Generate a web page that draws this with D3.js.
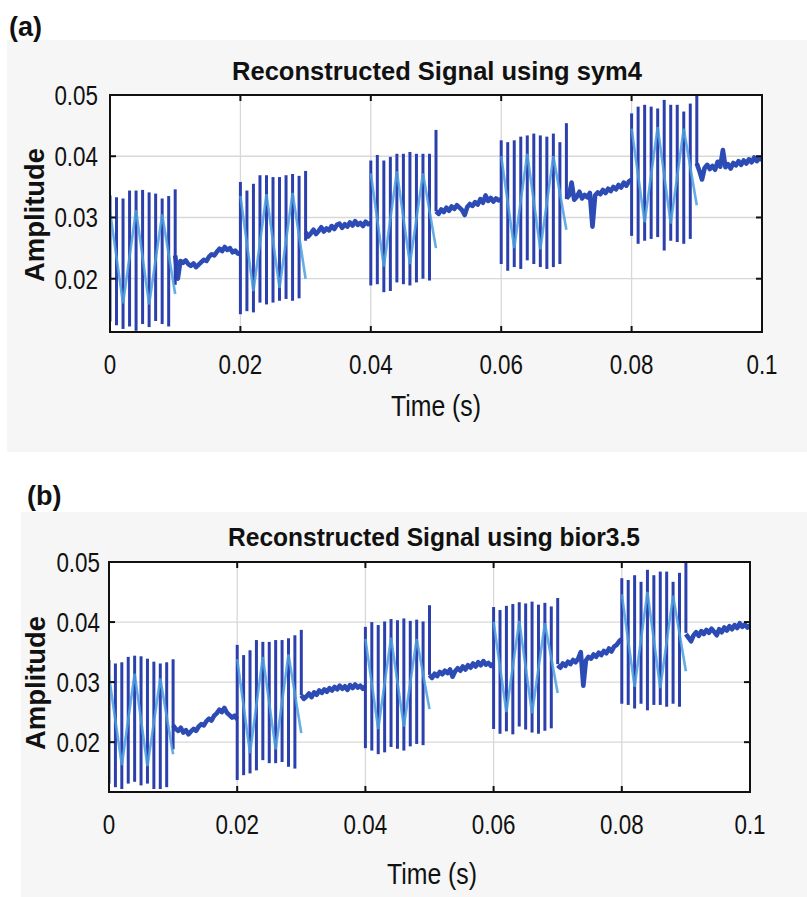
<!DOCTYPE html>
<html lang="en">
<head>
<meta charset="UTF-8">
<title>Reconstructed Signal</title>
<script src="https://cdn.jsdelivr.net/npm/d3@7/dist/d3.min.js"></script>
<style>
  body { margin: 0; background: #fff; }
  text { font-family: "Liberation Sans", Arial, sans-serif; fill: #111; }
</style>
</head>
<body>
<script>
// ---- data ----
var xTicks = [0, 0.02, 0.04, 0.06, 0.08, 0.1];
var yTicks = [0.02, 0.03, 0.04, 0.05];
var xTickLabels = ["0", "0.02", "0.04", "0.06", "0.08", "0.1"];
var yTickLabels = ["0.02", "0.03", "0.04", "0.05"];

var burstStarts = [0, 0.02, 0.04, 0.06, 0.08];  // 11 spikes, 1 ms apart
var gapStarts = [0.01, 0.03, 0.05, 0.07, 0.09];  // 26 samples, 0.4 ms apart

// (a) sym4
var spikeHighA = [
  [0.0336, 0.0333, 0.0331, 0.0344, 0.0344, 0.0345, 0.0341, 0.0339, 0.0331, 0.0335, 0.0346],
  [0.0358, 0.0344, 0.0355, 0.0369, 0.0369, 0.0366, 0.0366, 0.0369, 0.0371, 0.0368, 0.0376],
  [0.0393, 0.0402, 0.0393, 0.0399, 0.0404, 0.0404, 0.0407, 0.0404, 0.0404, 0.0404, 0.0443],
  [0.0426, 0.0423, 0.0426, 0.0432, 0.0434, 0.0437, 0.0434, 0.0432, 0.0437, 0.0423, 0.0454],
  [0.0470, 0.0481, 0.0484, 0.0481, 0.0478, 0.0492, 0.0484, 0.0484, 0.0473, 0.0486, 0.0500]
];
var spikeLowA = [
  [0.0130, 0.0124, 0.0118, 0.0122, 0.0115, 0.0126, 0.0121, 0.0131, 0.0126, 0.0122, 0.0190],
  [0.0142, 0.0147, 0.0145, 0.0161, 0.0158, 0.0161, 0.0164, 0.0167, 0.0164, 0.0168, 0.0262],
  [0.0189, 0.0191, 0.0178, 0.0180, 0.0194, 0.0191, 0.0189, 0.0194, 0.0200, 0.0197, 0.0310],
  [0.0224, 0.0213, 0.0219, 0.0216, 0.0230, 0.0224, 0.0219, 0.0216, 0.0219, 0.0224, 0.0330],
  [0.0270, 0.0257, 0.0262, 0.0265, 0.0268, 0.0246, 0.0262, 0.0260, 0.0257, 0.0265, 0.0385]
];
var zigzagA = [
  [0.0310, 0.0160, 0.0312, 0.0158, 0.0305, 0.0175],
  [0.0335, 0.0180, 0.0338, 0.0185, 0.0340, 0.0200],
  [0.0372, 0.0220, 0.0375, 0.0224, 0.0372, 0.0250],
  [0.0400, 0.0250, 0.0404, 0.0248, 0.0400, 0.0280],
  [0.0445, 0.0292, 0.0448, 0.0290, 0.0445, 0.0320]
];
var restA = [
  [0.0238, 0.0200, 0.0229, 0.0226, 0.0230, 0.0224, 0.0221, 0.0225, 0.0219, 0.0223, 0.0227, 0.0231, 0.0229, 0.0236, 0.0240, 0.0238, 0.0244, 0.0249, 0.0245, 0.0252, 0.0247, 0.0250, 0.0243, 0.0246, 0.0241, 0.0240],
  [0.0276, 0.0269, 0.0274, 0.0280, 0.0273, 0.0278, 0.0284, 0.0277, 0.0282, 0.0279, 0.0286, 0.0281, 0.0288, 0.0290, 0.0283, 0.0289, 0.0285, 0.0292, 0.0287, 0.0294, 0.0288, 0.0291, 0.0286, 0.0293, 0.0289, 0.0291],
  [0.0310, 0.0306, 0.0313, 0.0309, 0.0316, 0.0311, 0.0318, 0.0314, 0.0320, 0.0316, 0.0312, 0.0304, 0.0317, 0.0322, 0.0319, 0.0325, 0.0321, 0.0330, 0.0324, 0.0336, 0.0327, 0.0332, 0.0326, 0.0331, 0.0328, 0.0330],
  [0.0331, 0.0336, 0.0357, 0.0329, 0.0334, 0.0342, 0.0331, 0.0337, 0.0333, 0.0340, 0.0285, 0.0336, 0.0341, 0.0338, 0.0345, 0.0340, 0.0347, 0.0343, 0.0350, 0.0346, 0.0353, 0.0349, 0.0357, 0.0352, 0.0359, 0.0362],
  [0.0388, 0.0376, 0.0362, 0.0381, 0.0386, 0.0379, 0.0384, 0.0378, 0.0391, 0.0383, 0.0410, 0.0382, 0.0387, 0.0380, 0.0389, 0.0385, 0.0392, 0.0386, 0.0393, 0.0388, 0.0395, 0.0390, 0.0398, 0.0392, 0.0397, 0.0394]
];

// (b) bior3.5
var spikeHighB = [
  [0.0337, 0.0331, 0.0333, 0.0342, 0.0344, 0.0343, 0.0339, 0.0334, 0.0331, 0.0333, 0.0338],
  [0.0362, 0.0345, 0.0353, 0.0370, 0.0367, 0.0367, 0.0370, 0.0370, 0.0373, 0.0378, 0.0387],
  [0.0392, 0.0400, 0.0395, 0.0401, 0.0405, 0.0403, 0.0406, 0.0402, 0.0404, 0.0401, 0.0428],
  [0.0425, 0.0420, 0.0427, 0.0430, 0.0433, 0.0431, 0.0434, 0.0429, 0.0432, 0.0426, 0.0440],
  [0.0473, 0.0470, 0.0478, 0.0467, 0.0487, 0.0478, 0.0484, 0.0484, 0.0467, 0.0482, 0.0500]
];
var spikeLowB = [
  [0.0131, 0.0125, 0.0122, 0.0131, 0.0134, 0.0128, 0.0131, 0.0122, 0.0122, 0.0125, 0.0188],
  [0.0137, 0.0145, 0.0148, 0.0153, 0.0170, 0.0165, 0.0165, 0.0167, 0.0159, 0.0156, 0.0278],
  [0.0190, 0.0186, 0.0180, 0.0183, 0.0192, 0.0189, 0.0186, 0.0193, 0.0197, 0.0195, 0.0312],
  [0.0222, 0.0214, 0.0218, 0.0213, 0.0226, 0.0221, 0.0216, 0.0214, 0.0219, 0.0223, 0.0330],
  [0.0264, 0.0262, 0.0256, 0.0264, 0.0253, 0.0262, 0.0262, 0.0259, 0.0264, 0.0259, 0.0382]
];
var zigzagB = [
  [0.0310, 0.0162, 0.0314, 0.0160, 0.0306, 0.0180],
  [0.0338, 0.0182, 0.0342, 0.0188, 0.0346, 0.0215],
  [0.0372, 0.0222, 0.0374, 0.0226, 0.0372, 0.0255],
  [0.0400, 0.0250, 0.0402, 0.0248, 0.0398, 0.0282],
  [0.0446, 0.0292, 0.0450, 0.0290, 0.0444, 0.0318]
];
var restB = [
  [0.0228, 0.0222, 0.0219, 0.0224, 0.0216, 0.0220, 0.0213, 0.0218, 0.0222, 0.0219, 0.0226, 0.0230, 0.0228, 0.0235, 0.0239, 0.0236, 0.0244, 0.0248, 0.0254, 0.0250, 0.0257, 0.0249, 0.0245, 0.0241, 0.0244, 0.0238],
  [0.0278, 0.0272, 0.0276, 0.0281, 0.0275, 0.0283, 0.0279, 0.0286, 0.0282, 0.0288, 0.0284, 0.0290, 0.0286, 0.0292, 0.0288, 0.0294, 0.0289, 0.0293, 0.0287, 0.0295, 0.0290, 0.0296, 0.0291, 0.0294, 0.0289, 0.0293],
  [0.0312, 0.0307, 0.0314, 0.0310, 0.0317, 0.0313, 0.0319, 0.0315, 0.0321, 0.0309, 0.0318, 0.0323, 0.0319, 0.0326, 0.0321, 0.0328, 0.0324, 0.0331, 0.0326, 0.0333, 0.0328, 0.0335, 0.0329, 0.0332, 0.0327, 0.0331],
  [0.0328, 0.0324, 0.0331, 0.0327, 0.0334, 0.0330, 0.0337, 0.0333, 0.0339, 0.0350, 0.0294, 0.0336, 0.0342, 0.0339, 0.0346, 0.0342, 0.0349, 0.0345, 0.0352, 0.0348, 0.0356, 0.0351, 0.0359, 0.0362, 0.0368, 0.0372],
  [0.0380, 0.0374, 0.0368, 0.0378, 0.0383, 0.0377, 0.0385, 0.0380, 0.0387, 0.0382, 0.0389, 0.0384, 0.0378, 0.0388, 0.0383, 0.0391, 0.0386, 0.0393, 0.0388, 0.0395, 0.0390, 0.0398, 0.0392, 0.0396, 0.0391, 0.0395]
];

// ---- layout ----
var width = 807, height = 897;
var darkBlue = "#2b40ac", midBlue = "#2d4bb4", lightBlue = "#4c9fe0";

var svg = d3.select("body").append("svg")
    .attr("width", width)
    .attr("height", height);

var panels = [
  { tag: "(a)", tagX: 9, tagY: 36, title: "Reconstructed Signal using sym4", titleX: 437, titleY: 80, titleW: 410,
    bg: [7, 40, 800, 412], left: 110, right: 762, top: 95, bottom: 332, yMin: 0.0113,
    ampX: 44, ampY: 215, timeX: 436, timeY: 416, tickY: 374, yLabX: 98,
    high: spikeHighA, low: spikeLowA, zig: zigzagA, rest: restA },
  { tag: "(b)", tagX: 27, tagY: 505, title: "Reconstructed Signal using bior3.5", titleX: 434, titleY: 546, titleW: 412,
    bg: [21, 512, 786, 385], left: 109, right: 750, top: 562, bottom: 792, yMin: 0.0117,
    ampX: 45, ampY: 683, timeX: 432, timeY: 884, tickY: 834, yLabX: 100,
    high: spikeHighB, low: spikeLowB, zig: zigzagB, rest: restB }
];

panels.forEach(function(p, pi) {
  svg.append("rect")
      .attr("x", p.bg[0]).attr("y", p.bg[1])
      .attr("width", p.bg[2]).attr("height", p.bg[3])
      .attr("fill", "#f6f6f6");

  svg.append("text")
      .attr("x", p.tagX).attr("y", p.tagY)
      .style("font-weight", "bold")
      .style("font-size", "27px")
      .text(p.tag);

  var x = d3.scaleLinear().domain([0, 0.1]).range([p.left, p.right]);
  var y = d3.scaleLinear().domain([p.yMin, 0.05]).range([p.bottom, p.top]);

  var g = svg.append("g");

  g.append("rect")
      .attr("x", p.left).attr("y", p.top)
      .attr("width", p.right - p.left).attr("height", p.bottom - p.top)
      .attr("fill", "#fff");

  // grid
  g.selectAll(".gx").data(xTicks.slice(1, -1)).enter().append("line")
      .attr("x1", d => x(d)).attr("x2", d => x(d))
      .attr("y1", p.top).attr("y2", p.bottom)
      .attr("stroke", "#d8d8d8").attr("stroke-width", 1.3);
  g.selectAll(".gy").data(yTicks.slice(0, -1)).enter().append("line")
      .attr("y1", d => y(d)).attr("y2", d => y(d))
      .attr("x1", p.left).attr("x2", p.right)
      .attr("stroke", "#d8d8d8").attr("stroke-width", 1.3);

  // signal
  svg.append("clipPath").attr("id", "clip" + pi).append("rect")
      .attr("x", p.left).attr("y", p.top)
      .attr("width", p.right - p.left).attr("height", p.bottom - p.top);
  var sig = g.append("g").attr("clip-path", "url(#clip" + pi + ")");

  var line = d3.line().x(d => x(d.t)).y(d => y(d.v));

  var rest = p.rest.map(function(vals, i) {
    return vals.map(function(v, j) { return { t: gapStarts[i] + j * 0.0004, v: v }; });
  });
  sig.selectAll(".rest").data(rest).enter().append("path")
      .attr("d", line)
      .attr("fill", "none")
      .attr("stroke", midBlue)
      .attr("stroke-width", 4.6)
      .attr("stroke-linejoin", "round");

  var spikes = [];
  p.high.forEach(function(hs, i) {
    hs.forEach(function(h, k) {
      spikes.push({ t: burstStarts[i] + k * 0.001, hi: h, lo: p.low[i][k] });
    });
  });
  sig.selectAll(".spike").data(spikes).enter().append("line")
      .attr("x1", d => x(d.t)).attr("x2", d => x(d.t))
      .attr("y1", d => y(d.lo)).attr("y2", d => y(d.hi))
      .attr("stroke", darkBlue)
      .attr("stroke-width", 3);

  var zig = p.zig.map(function(vals, i) {
    return vals.map(function(v, j) { return { t: burstStarts[i] + j * 0.002, v: v }; });
  });
  sig.selectAll(".zig").data(zig).enter().append("path")
      .attr("d", line)
      .attr("fill", "none")
      .attr("stroke", lightBlue)
      .attr("stroke-width", 2.6)
      .attr("opacity", 0.85);

  // box and inward ticks
  g.append("rect")
      .attr("x", p.left).attr("y", p.top)
      .attr("width", p.right - p.left).attr("height", p.bottom - p.top)
      .attr("fill", "none").attr("stroke", "#111").attr("stroke-width", 2);

  var tl = 6;
  xTicks.forEach(function(d) {
    g.append("line").attr("x1", x(d)).attr("x2", x(d)).attr("y1", p.bottom).attr("y2", p.bottom - tl)
        .attr("stroke", "#111").attr("stroke-width", 2);
    g.append("line").attr("x1", x(d)).attr("x2", x(d)).attr("y1", p.top).attr("y2", p.top + tl)
        .attr("stroke", "#111").attr("stroke-width", 2);
  });
  yTicks.forEach(function(d) {
    g.append("line").attr("x1", p.left).attr("x2", p.left + tl).attr("y1", y(d)).attr("y2", y(d))
        .attr("stroke", "#111").attr("stroke-width", 2);
    g.append("line").attr("x1", p.right).attr("x2", p.right - tl).attr("y1", y(d)).attr("y2", y(d))
        .attr("stroke", "#111").attr("stroke-width", 2);
  });

  // tick labels, condensed like the original
  g.selectAll(".xl").data(xTicks).enter().append("text")
      .attr("transform", d => "translate(" + x(d) + "," + p.tickY + ") scale(0.8,1)")
      .attr("text-anchor", "middle")
      .style("font-size", "28px")
      .text((d, i) => xTickLabels[i]);
  g.selectAll(".yl").data(yTicks).enter().append("text")
      .attr("transform", d => "translate(" + p.yLabX + "," + (y(d) + 10) + ") scale(0.8,1)")
      .attr("text-anchor", "end")
      .style("font-size", "28px")
      .text((d, i) => yTickLabels[i]);

  // titles
  svg.append("text")
      .attr("x", p.titleX).attr("y", p.titleY)
      .attr("text-anchor", "middle")
      .attr("textLength", p.titleW).attr("lengthAdjust", "spacingAndGlyphs")
      .style("font-weight", "bold").style("font-size", "26px")
      .text(p.title);
  svg.append("text")
      .attr("transform", "translate(" + p.ampX + "," + p.ampY + ") rotate(-90)")
      .attr("text-anchor", "middle")
      .attr("textLength", 134).attr("lengthAdjust", "spacingAndGlyphs")
      .style("font-weight", "bold").style("font-size", "27px")
      .text("Amplitude");
  svg.append("text")
      .attr("x", p.timeX).attr("y", p.timeY)
      .attr("text-anchor", "middle")
      .attr("textLength", 90).attr("lengthAdjust", "spacingAndGlyphs")
      .style("font-size", "29px")
      .text("Time (s)");
});
</script>
</body>
</html>
